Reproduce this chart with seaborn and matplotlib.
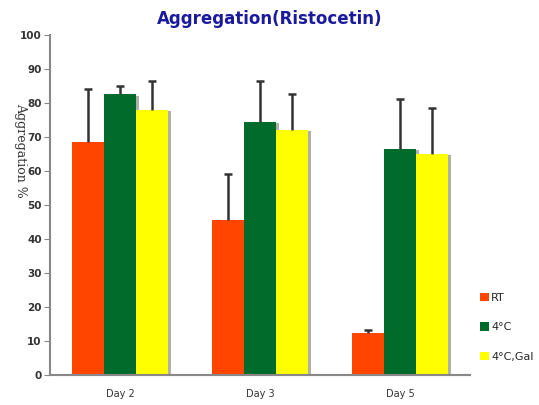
import numpy as np
import pandas as pd
import matplotlib
matplotlib.use("Agg")
import matplotlib.pyplot as plt
import matplotlib.patheffects as pe
import seaborn as sns

# data
days = ["Day 2", "Day 3", "Day 5"]
groups = ["RT", "4°C", "4°C,Gal"]
rt_vals = [68.5, 45.5, 12.5]
cold_vals = [82.5, 74.5, 66.5]
gal_vals = [78.0, 72.0, 65.0]
rt_err = [15.5, 13.5, 0.7]
cold_err = [2.5, 12.0, 14.5]
gal_err = [8.5, 10.5, 13.5]
yticks = list(range(0, 101, 10))

colors = {"RT": "#FF4500", "4°C": "#006B2A", "4°C,Gal": "#FFFF00"}

sns.set_style("white")
plt.rcParams["font.family"] = ["DejaVu Sans"]

df = pd.DataFrame({
    "day": days * 3,
    "group": [g for g in groups for _ in days],
    "value": rt_vals + cold_vals + gal_vals,
    "err": rt_err + cold_err + gal_err,
})

fig = plt.figure(figsize=(5.39, 4.05), dpi=100)
ax = fig.add_axes([0.093, 0.074, 0.779, 0.84])

sns.barplot(data=df, x="day", y="value", hue="group", order=days,
            hue_order=groups, palette=colors, errorbar=None, width=0.69,
            saturation=1, linewidth=0, ax=ax)

# legend first, so its handles do not pick up the bar shadows
leg = ax.legend(title=None, frameon=False, loc="center left",
                bbox_to_anchor=(1.0, 0.14), fontsize=8, labelspacing=1.75,
                handlelength=0.8, handleheight=0.8, handletextpad=0.2)

# shadows on bars
for p in ax.patches:
    p.set_path_effects([pe.SimplePatchShadow(offset=(2, -1), shadow_rgbFace="#A8A8A0", alpha=0.9),
                        pe.Normal()])

# upward-only error bars, placed at bar centers
for cont, g in zip(ax.containers, groups):
    sub = df[df["group"] == g].set_index("day").loc[days]
    xs = [b.get_x() + b.get_width() / 2 for b in cont]
    vals = sub["value"].values
    errs = sub["err"].values
    ax.vlines(xs, vals, vals + errs, color="#333333", linewidth=1.8, zorder=5)
    ax.scatter(xs, vals + errs, marker="_", s=30, linewidths=1.8, color="#333333", zorder=5)

ax.set_ylim(0, 100)
ax.set_xlim(-0.5, 2.5)
ax.set_yticks(yticks)
ax.set_yticklabels([str(t) for t in yticks], fontsize=7.5, fontweight="bold", color="#333333")
ax.set_xticks(range(len(days)))
ax.set_xticklabels(days, fontsize=7, color="#333333")
ax.set_xticks([-0.5, 0.5, 1.5, 2.5], minor=True)
ax.tick_params(axis="x", which="major", length=0, pad=10)
ax.tick_params(axis="x", which="minor", length=4, color="#888888", direction="out")
ax.tick_params(axis="y", length=4, color="#888888", direction="out", pad=2)
ax.tick_params(left=True, bottom=True)

for s in ["top", "right"]:
    ax.spines[s].set_visible(False)
for s in ["left", "bottom"]:
    ax.spines[s].set_color("#888888")
    ax.spines[s].set_linewidth(1.5)

ax.set_xlabel("")
ax.set_ylabel("Aggregation %", rotation=270, family="DejaVu Serif",
              fontsize=9, color="#333333")
ax.yaxis.set_label_coords(-0.085, 0.66)

fig.suptitle("Aggregation(Ristocetin)", x=0.5, y=0.975, fontsize=12,
             fontweight="bold", color="#1A1A9E")

fig.savefig("out.png", dpi=100)
